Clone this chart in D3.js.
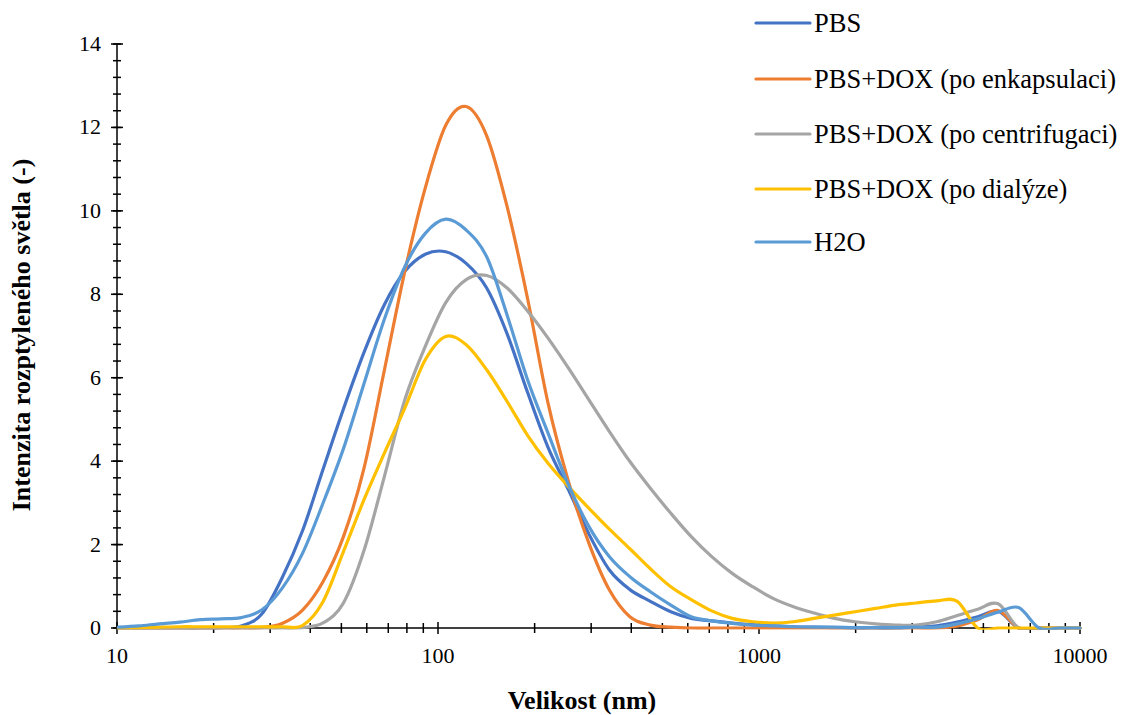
<!DOCTYPE html>
<html>
<head>
<meta charset="utf-8">
<script src="https://cdn.jsdelivr.net/npm/d3@7"></script>
<style>
  html, body { margin: 0; padding: 0; background: #fff; }
  svg { display: block; }
  text { font-family: "Liberation Serif", "Times New Roman", serif; fill: #000; }
</style>
</head>
<body>
<script>
// ---- data ----
const sizes = [10.1, 11.7, 13.54, 15.69, 18.17, 21.04, 24.36, 28.21, 32.67, 37.84, 43.82, 50.75, 58.77, 68.06, 78.82, 91.28, 105.7, 122.4, 141.8, 164.2, 190.1, 220.2, 255.0, 295.3, 342.0, 396.1, 458.7, 531.2, 615.1, 712.4, 825.0, 955.4, 1106, 1281, 1484, 1718, 1990, 2305, 2669, 3091, 3580, 4145, 4801, 5560, 6439, 7456, 8635, 10000];

const seriesNames = ["PBS", "PBS+DOX (po enkapsulaci)", "PBS+DOX (po centrifugaci)", "PBS+DOX (po dialýze)", "H2O"];
const seriesColors = ["#4472C4", "#ED7D31", "#A5A5A5", "#FFC000", "#5B9BD5"];

const pbs = [0, 0, 0, 0, 0, 0.01, 0.05, 0.33, 1.2, 2.33, 3.8, 5.25, 6.6, 7.75, 8.55, 8.96, 9.02, 8.74, 8.15, 7.05, 5.65, 4.33, 3.31, 2.25, 1.39, 0.92, 0.64, 0.39, 0.23, 0.17, 0.12, 0.08, 0.05, 0.03, 0.02, 0.01, 0, 0, 0, 0.02, 0.05, 0.14, 0.27, 0.4, 0, 0, 0, 0];
const enkaps = [0, 0, 0, 0, 0, 0, 0, 0.01, 0.11, 0.43, 1.11, 2.19, 3.82, 6.18, 8.55, 10.55, 12.05, 12.5, 11.8, 10.1, 7.9, 5.39, 3.51, 2.03, 0.91, 0.27, 0.07, 0.02, 0, 0, 0, 0, 0, 0, 0, 0, 0, 0, 0, 0, 0, 0.05, 0.2, 0.42, 0, 0, 0, 0];
const centrif = [0, 0, 0, 0, 0, 0, 0, 0, 0, 0.01, 0.12, 0.6, 1.85, 3.63, 5.47, 6.75, 7.8, 8.35, 8.45, 8.15, 7.6, 6.95, 6.23, 5.47, 4.71, 3.99, 3.35, 2.75, 2.19, 1.71, 1.31, 0.99, 0.71, 0.51, 0.36, 0.23, 0.15, 0.1, 0.07, 0.07, 0.15, 0.3, 0.45, 0.58, 0, 0, 0, 0];
const dialyza = [0, 0.01, 0.02, 0.03, 0.03, 0.03, 0.03, 0.03, 0.03, 0.06, 0.63, 1.83, 3.07, 4.19, 5.27, 6.43, 6.99, 6.79, 6.19, 5.43, 4.62, 3.95, 3.39, 2.87, 2.37, 1.9, 1.42, 0.99, 0.68, 0.41, 0.23, 0.15, 0.12, 0.15, 0.23, 0.31, 0.39, 0.47, 0.55, 0.6, 0.65, 0.64, 0, 0, 0, 0, 0, 0];
const h2o = [0.02, 0.05, 0.1, 0.14, 0.2, 0.22, 0.25, 0.43, 0.95, 1.79, 2.99, 4.3, 5.85, 7.4, 8.66, 9.46, 9.8, 9.54, 8.9, 7.5, 5.95, 4.67, 3.43, 2.43, 1.71, 1.23, 0.87, 0.55, 0.27, 0.17, 0.11, 0.07, 0.05, 0.03, 0.02, 0.02, 0.01, 0.01, 0.01, 0.02, 0.02, 0.1, 0.22, 0.38, 0.49, 0, 0, 0];

const xTickValues = [10, 100, 1000, 10000];
const xTickLabels = ["10", "100", "1000", "10000"];
const yTickValues = [0, 2, 4, 6, 8, 10, 12, 14];
const yTickLabels = ["0", "2", "4", "6", "8", "10", "12", "14"];

const xTitle = "Velikost (nm)";
const yTitle = "Intenzita rozptyleného světla (-)";

// ---- layout ----
const W = 1126, H = 715;
const L = 117, R = 1080, T = 44, B = 628;

const svg = d3.select("body").append("svg").attr("width", W).attr("height", H);

svg.append("defs").append("clipPath").attr("id", "plotclip")
  .append("rect").attr("x", L - 2).attr("y", T - 10).attr("width", R - L + 4).attr("height", B - T + 11.7);

const x = d3.scaleLog().domain([10, 10000]).range([L, R]);
const y = d3.scaleLinear().domain([0, 14]).range([B, T]);

// axes lines
const axes = svg.append("g").attr("stroke", "#000").attr("stroke-width", 1.5);
axes.append("line").attr("x1", L).attr("x2", R).attr("y1", B).attr("y2", B);
axes.append("line").attr("x1", L).attr("x2", L).attr("y1", T).attr("y2", B);

// y ticks (major & minor, crossing)
const yMinor = d3.range(0, 14.0001, 0.4);
yMinor.forEach(v => {
  axes.append("line").attr("x1", L - 4).attr("x2", L + 4).attr("y1", y(v)).attr("y2", y(v));
});
yTickValues.forEach(v => {
  axes.append("line").attr("x1", L - 6).attr("x2", L + 6).attr("y1", y(v)).attr("y2", y(v));
});
// x ticks
const xMinor = [];
[10, 100, 1000].forEach(d => { for (let k = 2; k <= 9; k++) xMinor.push(d * k); });
xMinor.forEach(v => {
  axes.append("line").attr("x1", x(v)).attr("x2", x(v)).attr("y1", B - 5).attr("y2", B + 5);
});
xTickValues.forEach(v => {
  axes.append("line").attr("x1", x(v)).attr("x2", x(v)).attr("y1", B - 6).attr("y2", B + 6);
});

// tick labels
svg.append("g").selectAll("text").data(yTickValues).join("text")
  .attr("x", 101).attr("y", d => y(d) + 7)
  .attr("text-anchor", "end").attr("font-size", 22)
  .text((d, i) => yTickLabels[i]);
svg.append("g").selectAll("text").data(xTickValues).join("text")
  .attr("x", d => x(d)).attr("y", 663)
  .attr("text-anchor", "middle").attr("font-size", 22)
  .text((d, i) => xTickLabels[i]);

// axis titles
svg.append("text").attr("x", 582).attr("y", 709).attr("text-anchor", "middle")
  .attr("font-size", 26).attr("font-weight", "bold").text(xTitle);
svg.append("text").attr("transform", "translate(30,335) rotate(-90)").attr("text-anchor", "middle")
  .attr("font-size", 26).attr("font-weight", "bold").text(yTitle);

// series lines
const allSeries = [pbs, enkaps, centrif, dialyza, h2o];
const line = d3.line()
  .x((d, i) => x(sizes[i]))
  .y(d => y(d))
  .curve(d3.curveCatmullRom.alpha(0));

svg.append("g").attr("clip-path", "url(#plotclip)")
  .selectAll("path").data(allSeries).join("path")
  .attr("d", d => line(d))
  .attr("fill", "none")
  .attr("stroke", (d, i) => seriesColors[i])
  .attr("stroke-width", 3.2)
  .attr("stroke-linejoin", "round")
  .attr("stroke-linecap", "round");

// legend
const lg = svg.append("g");
const rowY = [23, 79, 134, 189, 242];
seriesNames.forEach((name, i) => {
  lg.append("line").attr("x1", 756).attr("x2", 810).attr("y1", rowY[i]).attr("y2", rowY[i])
    .attr("stroke", seriesColors[i]).attr("stroke-width", 3.2).attr("stroke-linecap", "round");
  lg.append("text").attr("x", 814).attr("y", rowY[i] + 9).attr("font-size", 26.5).text(name);
});
</script>
</body>
</html>
